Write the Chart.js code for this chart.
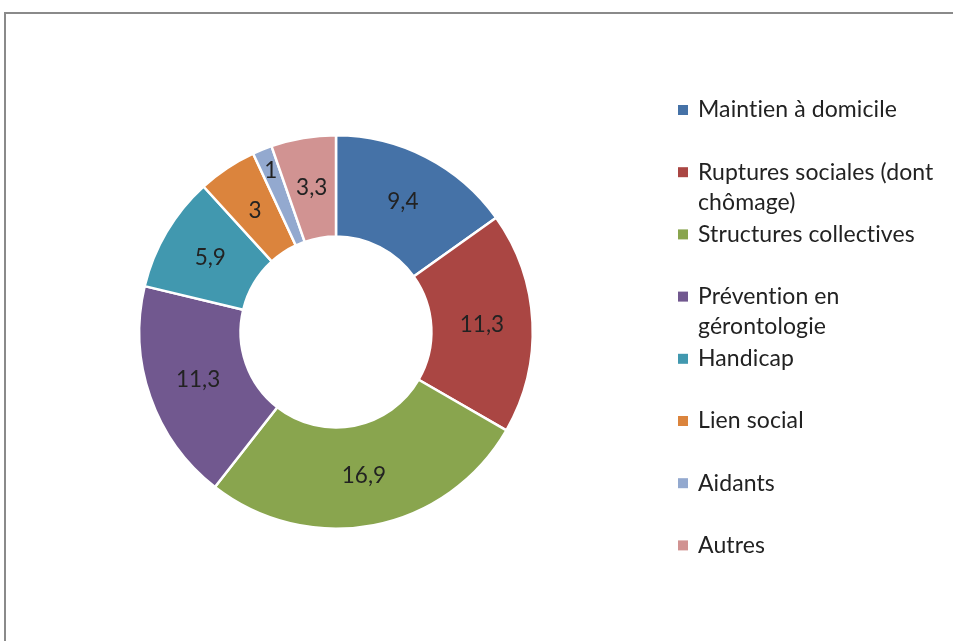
<!DOCTYPE html>
<html>
<head>
<meta charset="utf-8">
<script src="https://cdn.jsdelivr.net/npm/chart.js@4/dist/chart.umd.min.js"></script>
<style>
    body { margin: 0; background: #fff; }
    #wrap { position: relative; width: 953px; height: 641px; overflow: hidden; }
    #frame { position: absolute; left: 4px; top: 12px; width: 1000px; height: 700px;
             border-top: 2px solid #8a8a8a; border-left: 2px solid #8a8a8a; }
    canvas { position: absolute; left: 0; top: 0; }
</style>
</head>
<body>
<div id="wrap">
    <div id="frame"></div>
    <canvas id="donut" width="953" height="641"></canvas>
</div>
<script>
// données du graphique
var categories = ['Maintien à domicile', 'Ruptures sociales (dont chômage)', 'Structures collectives',
    'Prévention en gérontologie', 'Handicap', 'Lien social', 'Aidants', 'Autres'];
var valeurs = [9.4, 11.3, 16.9, 11.3, 5.9, 3, 1, 3.3];
var couleurs = ['#4572A7', '#AA4643', '#89A54E', '#71588F', '#4198AF', '#DB843D', '#93A9CF', '#D19392'];

var police = 'Lato, "Open Sans", sans-serif';

// étiquettes de valeur sur les parts (virgule décimale)
var etiquettes = {
    id: 'etiquettes',
    afterDatasetsDraw: function(chart) {
        var ctx = chart.ctx;
        var meta = chart.getDatasetMeta(0);
        var total = valeurs.reduce(function(a, b) { return a + b; }, 0);
        ctx.save();
        ctx.font = '22.5px ' + police;
        ctx.fillStyle = '#222222';
        ctx.textAlign = 'center';
        ctx.textBaseline = 'middle';
        meta.data.forEach(function(arc, i) {
            var p = arc.getProps(['x', 'y', 'startAngle', 'endAngle', 'innerRadius', 'outerRadius']);
            var milieu = (p.startAngle + p.endAngle) / 2;
            var r = (p.innerRadius + p.outerRadius) / 2;
            if (valeurs[i] / total < 0.03) r = p.outerRadius * 0.885; // petite part : vers l'extérieur
            var txt = String(valeurs[i]).replace('.', ',');
            ctx.fillText(txt, p.x + Math.cos(milieu) * r, p.y + Math.sin(milieu) * r);
        });
        ctx.restore();
    }
};

// légende à droite, avec retour à la ligne comme dans Excel
var legende = {
    id: 'legende',
    afterDraw: function(chart) {
        var ctx = chart.ctx;
        var x0 = 678, y0 = 110, pas = 62.2, interligne = 30, largeurMax = 252;
        ctx.save();
        ctx.font = '23px ' + police;
        ctx.letterSpacing = '0.1px';
        ctx.textBaseline = 'middle';
        ctx.textAlign = 'left';
        categories.forEach(function(lab, i) {
            var y = y0 + i * pas;
            ctx.fillStyle = couleurs[i];
            ctx.fillRect(x0, y - 5, 10, 10);
            ctx.fillStyle = '#222222';
            var mots = lab.split(' ');
            var ligne = '', ly = y;
            mots.forEach(function(m) {
                var essai = ligne ? ligne + ' ' + m : m;
                if (ligne && ctx.measureText(essai).width > largeurMax) {
                    ctx.fillText(ligne, x0 + 20, ly);
                    ligne = m;
                    ly += interligne;
                } else {
                    ligne = essai;
                }
            });
            ctx.fillText(ligne, x0 + 20, ly);
        });
        ctx.restore();
    }
};

var ctx = document.getElementById('donut').getContext('2d');
var chart = new Chart(ctx, {
    type: 'doughnut',
    data: {
        labels: categories,
        datasets: [{
            data: valeurs,
            backgroundColor: couleurs,
            borderColor: '#ffffff',
            borderWidth: 2.5,
            hoverOffset: 0
        }]
    },
    options: {
        responsive: false,
        animation: false,
        cutout: '48.5%',
        layout: { padding: { left: 138, right: 419, top: 134, bottom: 111 } },
        plugins: {
            legend: { display: false },
            tooltip: { enabled: false }
        }
    },
    plugins: [etiquettes, legende]
});
</script>
</body>
</html>
